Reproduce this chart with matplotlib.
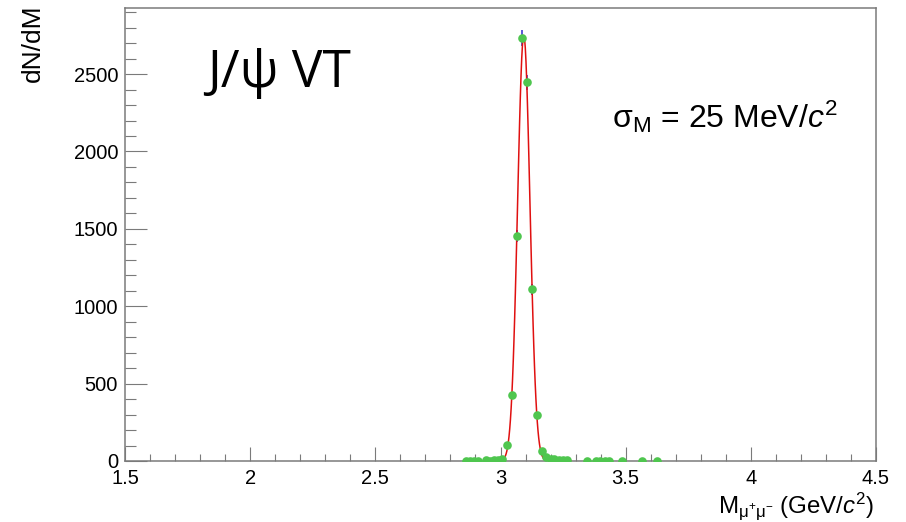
import numpy as np
import matplotlib
matplotlib.use("Agg")
import matplotlib.pyplot as plt
from matplotlib.ticker import MultipleLocator

# invariant mass bins (GeV/c^2) and counts
mass = [2.863, 2.879, 2.895, 2.910, 2.943, 2.959, 2.974, 2.989, 3.005,
        3.026, 3.045, 3.065, 3.086, 3.107, 3.126, 3.144, 3.165, 3.183,
        3.200, 3.215, 3.233, 3.249, 3.266, 3.345, 3.381, 3.399, 3.416,
        3.432, 3.484, 3.564, 3.624]
counts = [2, 1, 3, 2, 4, 3, 5, 6, 10,
          102, 426, 1455, 2735, 2446, 1109, 297, 65, 28,
          15, 10, 7, 5, 4, 3, 2, 2, 2,
          2, 1, 1, 1]

# gaussian fit parameters
fit_amp = 2750.0
fit_mean = 3.093
fit_sigma = 0.0247
fit_range = (3.0, 3.28)

plt.rcParams["font.family"] = ["Liberation Sans", "DejaVu Sans"]
plt.rcParams["mathtext.fontset"] = "custom"
plt.rcParams["mathtext.rm"] = "Liberation Sans"
plt.rcParams["mathtext.it"] = "Liberation Sans:italic"

fig = plt.figure(figsize=(9.06, 5.22), dpi=100)
ax = fig.add_axes([125 / 906, 61 / 522, 751 / 906, 452.7 / 522])

mass = np.array(mass)
counts = np.array(counts, dtype=float)

ax.errorbar(mass, counts, yerr=np.sqrt(counts), fmt="none", ecolor="#3c3ccf",
            elinewidth=1.2, zorder=2)
xf = np.linspace(fit_range[0], fit_range[1], 100)
yf = fit_amp * np.exp(-0.5 * ((xf - fit_mean) / fit_sigma) ** 2)
ax.plot(xf, yf, color="#e01010", lw=1.1, zorder=3)
ax.plot(mass, counts, "o", color="#4fc64f", ms=6.2, mec="none", zorder=4)

ax.set_xlim(1.5, 4.5)
ax.set_ylim(0, 2925)
ax.xaxis.set_major_locator(MultipleLocator(0.5))
ax.xaxis.set_minor_locator(MultipleLocator(0.1))
ax.yaxis.set_major_locator(MultipleLocator(500))
ax.yaxis.set_minor_locator(MultipleLocator(100))
ax.set_xticks([1.5, 2, 2.5, 3, 3.5, 4, 4.5])
ax.set_xticklabels(["1.5", "2", "2.5", "3", "3.5", "4", "4.5"])

for s in ax.spines.values():
    s.set_color("#7a7a7a")
    s.set_linewidth(1.1)
ax.tick_params(axis="x", which="major", direction="in", length=10, width=0.8,
               color="#7a7a7a", labelsize=14.5, pad=6)
ax.tick_params(axis="x", which="minor", direction="in", length=5, width=0.8,
               color="#7a7a7a")
ax.tick_params(axis="y", which="major", direction="in", length=16, width=0.8,
               color="#7a7a7a", labelsize=14.5, pad=5)
ax.tick_params(axis="y", which="minor", direction="in", length=8, width=0.8,
               color="#7a7a7a")

ax.set_xlabel(r"$\mathregular{M}_{\mathregular{\mu^{+}\mu^{-}}}$ (GeV/$c^{2}$)",
              fontsize=17.3, ha="right")
ax.xaxis.set_label_coords(0.997, -0.064)
ax.set_ylabel("dN/dM", fontsize=19, ha="right")
ax.yaxis.set_label_coords(-0.107, 1.008)

ax.text(0.11, 0.826, "J/ψ VT", transform=ax.transAxes, fontsize=37,
        family=["Open Sans", "DejaVu Sans"])
ax.text(0.648, 0.736, r"$\mathregular{σ_{M}}$ = 25 MeV/$c^{2}$",
        transform=ax.transAxes, fontsize=23)

fig.savefig("out.png", dpi=100)
